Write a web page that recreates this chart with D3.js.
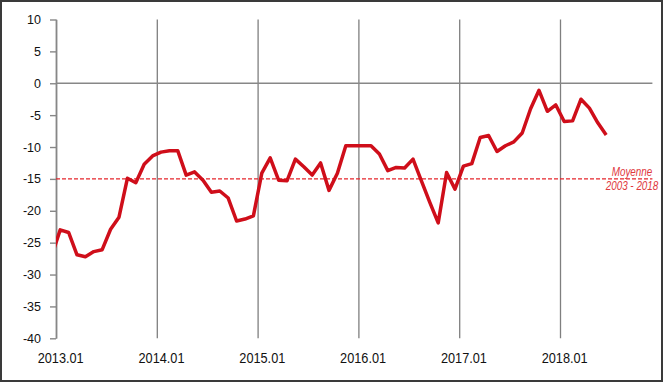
<!DOCTYPE html>
<html>
  <head>
    <meta charset="utf-8">
  </head>
  <body style="margin:0">
    <style>
      body { background: #fff; }
      text { font-family: "Liberation Sans", Arial, sans-serif; }
    </style>
    <script src="https://d3js.org/d3.v7.min.js"></script>
    <script type="text/javascript">
      const width = 665;
      const height = 384;

      // monthly values, starting 2012.12 (partly hidden behind the axis), ending 2018.06
      const firstMonth = -1; // months from 2013.01
      const values = [
        -27.0,
        -23.0, -23.4, -26.9, -27.2, -26.4, -26.1, -22.9, -21.0, -14.9, -15.6, -12.7, -11.4,
        -10.8, -10.6, -10.6, -14.4, -13.9, -15.2, -17.1, -16.9, -18.0, -21.6, -21.3, -20.8,
        -14.1, -11.7, -15.2, -15.3, -11.9, -13.1, -14.4, -12.5, -16.8, -14.1, -9.8, -9.8,
        -9.8, -9.8, -11.1, -13.7, -13.2, -13.3, -11.9, -15.3, -18.7, -21.9, -14.0, -16.6,
        -13.0, -12.6, -8.5, -8.2, -10.7, -9.8, -9.2, -7.8, -4.0, -1.1, -4.4, -3.4,
        -6.0, -5.9, -2.5, -3.9, -6.2, -8.1,
      ];
      const yearLabels = ['2013.01', '2014.01', '2015.01', '2016.01', '2017.01', '2018.01'];
      const yTicks = [10, 5, 0, -5, -10, -15, -20, -25, -30, -35, -40];
      const average = -15;
      const averageLabel = ['Moyenne', '2003 - 2018'];

      const plotLeft = 56, plotRight = 652.4, plotTop = 19.5, plotBottom = 338.3;

      const x = d3.scaleLinear().domain([0, 71]).range([plotLeft, plotRight]);
      const y = d3.scaleLinear().domain([-40, 10]).range([plotBottom, plotTop]);

      const svg = d3.select('body')
        .append('svg')
        .attr('width', width)
        .attr('height', height);

      svg.append('rect')
        .attr('x', 1).attr('y', 1)
        .attr('width', 661).attr('height', 380)
        .attr('fill', '#fff')
        .attr('stroke', '#3a3a3a')
        .attr('stroke-width', 2);

      svg.append('defs').append('clipPath').attr('id', 'plot')
        .append('rect')
        .attr('x', plotLeft).attr('y', 0)
        .attr('width', plotRight - plotLeft).attr('height', height);

      // vertical gridlines at each January
      const yearStarts = yearLabels.map((d, i) => i * 12);
      svg.append('g')
        .attr('transform', `translate(0,${plotTop})`)
        .call(d3.axisBottom(x).tickValues(yearStarts).tickSize(plotBottom - plotTop).tickFormat(''))
        .call((g) => g.select('.domain').remove())
        .call((g) => g.selectAll('line').attr('stroke', '#7f7f7f').attr('stroke-width', 1.3));

      // zero line (horizontal axis)
      svg.append('line')
        .attr('x1', plotLeft).attr('x2', plotRight)
        .attr('y1', y(0)).attr('y2', y(0))
        .attr('stroke', '#878787')
        .attr('stroke-width', 1.6);

      // y axis
      svg.append('g')
        .attr('transform', `translate(${plotLeft},0)`)
        .call(d3.axisLeft(y).tickValues(yTicks).tickSize(6).tickPadding(9).tickSizeOuter(0)
          .tickFormat((d) => String(d)))
        .call((g) => g.select('.domain').attr('stroke', '#878787').attr('stroke-width', 1.6))
        .call((g) => g.selectAll('line').attr('stroke', '#878787').attr('stroke-width', 1.4))
        .call((g) => g.selectAll('text')
          .attr('fill', '#111')
          .style('font-size', '12.5px')
          .style('font-family', '"Liberation Sans", Arial, sans-serif'));

      // x labels at the middle of each January
      svg.append('g')
        .attr('transform', `translate(0,${plotBottom})`)
        .call(d3.axisBottom(x)
          .tickValues(yearStarts.map((d) => d + 0.5))
          .tickSize(0)
          .tickPadding(0)
          .tickFormat((d, i) => yearLabels[i]))
        .call((g) => g.select('.domain').remove())
        .call((g) => g.selectAll('text')
          .attr('y', 25.2)
          .attr('dy', null)
          .attr('fill', '#111')
          .attr('textLength', 46)
          .attr('lengthAdjust', 'spacingAndGlyphs')
          .style('font-size', '15.5px')
          .style('font-family', '"Liberation Sans Narrow", "Liberation Sans", Arial, sans-serif'));

      // average line
      svg.append('line')
        .attr('x1', plotLeft).attr('x2', plotRight)
        .attr('y1', y(average)).attr('y2', y(average))
        .attr('stroke', '#e5262c')
        .attr('stroke-width', 1.3)
        .attr('stroke-dasharray', '4,2');

      // label, narrowed by a horizontal scale
      svg.append('g')
        .selectAll('g')
        .data(averageLabel)
        .enter()
        .append('g')
        .attr('transform', (d, i) => `translate(632,${y(average) - 3 + i * 14.5}) scale(0.79,1)`)
        .append('text')
        .attr('text-anchor', 'middle')
        .attr('fill', '#e0393e')
        .attr('font-style', 'italic')
        .attr('font-size', '12.5px')
        .text((d) => d);

      // main series
      const line = d3.line()
        .x((d, i) => x(firstMonth + i + 0.5))
        .y((d) => y(d));

      svg.append('path')
        .datum(values)
        .attr('clip-path', 'url(#plot)')
        .attr('d', line)
        .attr('fill', 'none')
        .attr('stroke', '#cf0e1a')
        .attr('stroke-width', 3.5)
        .attr('stroke-linejoin', 'round');
    </script>
  </body>
</html>
